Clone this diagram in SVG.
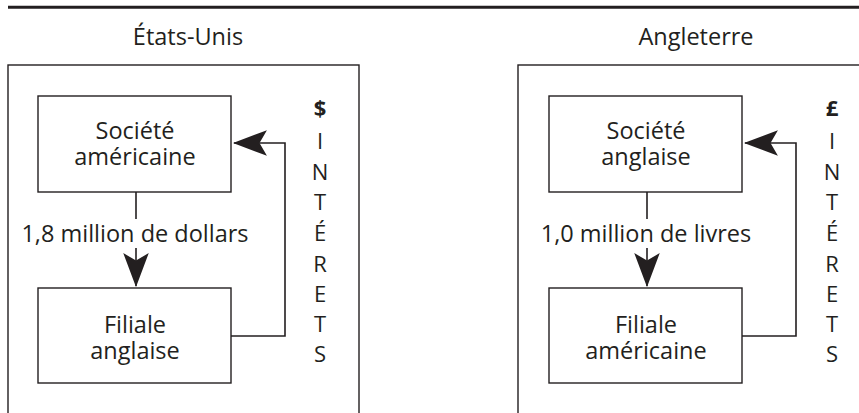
<svg xmlns="http://www.w3.org/2000/svg" width="859" height="413" viewBox="0 0 859 413">
<style>
  text { font-family: "Open Sans", "Noto Sans", "Liberation Sans", sans-serif; font-size: 23.5px; fill: #231f20; text-anchor: middle; }
  .box { fill: none; stroke: #231f20; stroke-width: 1.4; }
  .conn { fill: none; stroke: #231f20; stroke-width: 1.6; }
  .col { font-size: 22px; }
  .bold { font-weight: bold; }
</style>
<defs>
  <marker id="arr" markerUnits="userSpaceOnUse" markerWidth="34" markerHeight="26" viewBox="0 0 32 24" refX="31" refY="12" orient="auto">
    <path d="M32,12 L0,0 L7,12 L0,24 Z" fill="#231f20"/>
  </marker>
</defs>
<rect x="0" y="0" width="859" height="413" fill="#ffffff"/>
<line x1="8" y1="7.3" x2="859" y2="7.3" stroke="#231f20" stroke-width="3"/>

<g id="panel-usa">
  <text x="188" y="45">États-Unis</text>
  <rect class="box" x="8" y="65" width="351" height="380"/>
</g>
<g id="panel-uk">
  <text x="696" y="45">Angleterre</text>
  <rect class="box" x="518" y="65" width="380" height="380"/>
</g>

<g id="societe-americaine">
  <rect class="box" x="38" y="96" width="193" height="96"/>
  <text x="135" y="139">Société<tspan x="135" dy="26">américaine</tspan></text>
</g>
<g id="filiale-anglaise">
  <rect class="box" x="38" y="288" width="193" height="95"/>
  <text x="135" y="333">Filiale<tspan x="135" dy="26">anglaise</tspan></text>
</g>
<g id="societe-anglaise">
  <rect class="box" x="549" y="96" width="193" height="96"/>
  <text x="646" y="139">Société<tspan x="646" dy="26">anglaise</tspan></text>
</g>
<g id="filiale-americaine">
  <rect class="box" x="549" y="288" width="193" height="95"/>
  <text x="646" y="333">Filiale<tspan x="646" dy="26">américaine</tspan></text>
</g>

<g id="interets-usa">
  <text class="col bold" x="320" y="116">$</text>
  <text class="col" x="320" y="149">I</text>
  <text class="col" x="320" y="180">N</text>
  <text class="col" x="320" y="210">T</text>
  <text class="col" x="320" y="241">É</text>
  <text class="col" x="320" y="272">R</text>
  <text class="col" x="320" y="302">E</text>
  <text class="col" x="320" y="332">T</text>
  <text class="col" x="320" y="362">S</text>
</g>
<g id="interets-uk">
  <text class="col bold" x="832" y="116">£</text>
  <text class="col" x="832" y="149">I</text>
  <text class="col" x="832" y="180">N</text>
  <text class="col" x="832" y="210">T</text>
  <text class="col" x="832" y="241">É</text>
  <text class="col" x="832" y="272">R</text>
  <text class="col" x="832" y="302">E</text>
  <text class="col" x="832" y="332">T</text>
  <text class="col" x="832" y="362">S</text>
</g>

<g id="connectors">
  <line class="conn" x1="136" y1="192" x2="136" y2="219"/>
  <line class="conn" x1="136" y1="248" x2="136" y2="286" marker-end="url(#arr)"/>
  <text x="135" y="242">1,8 million de dollars</text>
  <polyline class="conn" points="231,336 285,336 285,143 234,143" marker-end="url(#arr)"/>

  <line class="conn" x1="647" y1="192" x2="647" y2="219"/>
  <line class="conn" x1="647" y1="248" x2="647" y2="286" marker-end="url(#arr)"/>
  <text x="646" y="242">1,0 million de livres</text>
  <polyline class="conn" points="742,336 796,336 796,143 745,143" marker-end="url(#arr)"/>
</g>
</svg>
